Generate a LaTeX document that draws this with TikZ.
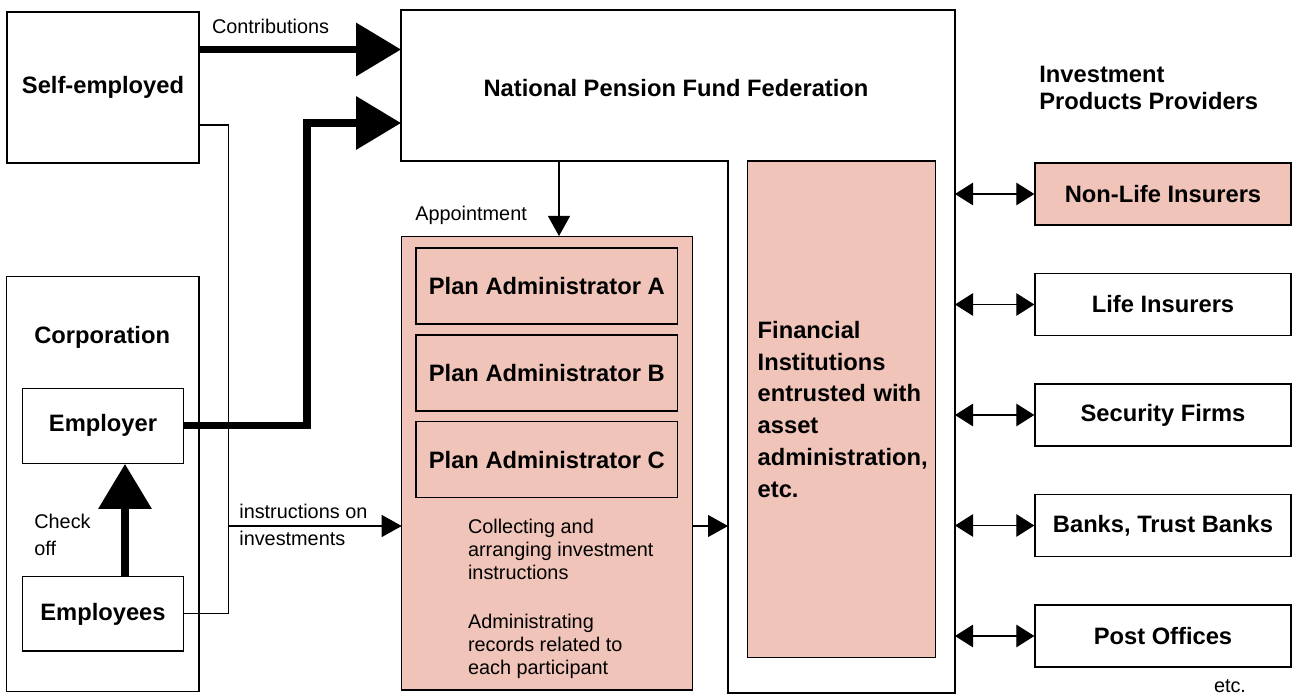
\documentclass[tikz,border=0pt]{standalone}
\usepackage{fontspec}
\setmainfont{Liberation Sans}
\usetikzlibrary{arrows.meta}
\definecolor{admpink}{RGB}{240,196,184}
\tikzset{
  box/.style={draw, line width=0.8pt, inner sep=0pt, font=\fontsize{13.5}{16}\selectfont\bfseries},
  pinkbox/.style={box, fill=admpink},
  provbox/.style={box, minimum width=5.12cm, minimum height=1.24cm},
  planbox/.style={pinkbox, minimum width=5.23cm, minimum height=1.52cm},
  heading/.style={inner sep=0pt, font=\fontsize{13.5}{16}\selectfont\bfseries},
  note/.style={inner sep=0pt, align=left, font=\fontsize{11.3}{13.3}\selectfont},
  fatarrow/.style={line width=4pt, line join=miter, -{Triangle[length=0.9cm,width=1.04cm]}},
  thinarrow/.style={line width=0.6pt, -{Triangle[length=0.4cm,width=0.44cm]}},
  twoway/.style={line width=0.6pt, {Triangle[length=0.36cm,width=0.45cm]}-{Triangle[length=0.36cm,width=0.45cm]}},
  link/.style={line width=0.6pt},
}
\begin{document}
\begin{tikzpicture}[x=0.02cm, y=-0.02cm]
    \useasboundingbox (0,0) rectangle (1296,696);
    % contributors on the left
    \node[box, minimum width=3.84cm, minimum height=3.02cm] (selfemp) at (103,87.5) {Self-employed};
    \node[box, minimum width=3.846cm, minimum height=8.3cm] (corp) at (102.85,484.2) {};
    \node[heading, anchor=base west] (corplabel) at (34,343.3) {Corporation};
    \node[box, minimum width=3.228cm, minimum height=1.5cm] (employer) at (103,425.8) {Employer};
    \node[box, minimum width=3.228cm, minimum height=1.49cm] (employees) at (103,613.9) {Employees};
    \node[note, anchor=north west, font=\fontsize{11.3}{15}\selectfont] (checkoff) at (34,514) {Check\\off};

    % the federation, an L-shaped outline
    \coordinate (fedNW) at (401,10);
    \coordinate (fedNE) at (955,10);
    \coordinate (fedSE) at (955,693);
    \coordinate (fedSM) at (728,693);
    \coordinate (fedIn) at (728,161);
    \coordinate (fedSW) at (401,161);
    \draw[link, line width=0.8pt] (fedNW) -- (fedNE) -- (fedSE) -- (fedSM) -- (fedIn) -- (fedSW) -- cycle;
    \node[heading] (fed) at (676,88) {National Pension Fund Federation};

    % plan administrators
    \node[pinkbox, minimum width=5.82cm, minimum height=9.07cm] (plan) at (547.2,463.4) {};
    \foreach \tag/\y in {A/285.9, B/373, C/459.7}
      \node[planbox] (adm\tag) at (546.8,\y) {Plan Administrator \tag};
    \node[note, anchor=north west] (collect) at (467.7,518.5) {Collecting and\\arranging investment\\instructions};
    \node[note, anchor=north west] (records) at (467.7,613.5) {Administrating\\records related to\\each participant};

    % asset administration
    \node[pinkbox, minimum width=3.756cm, minimum height=9.93cm, text width=3.356cm,
          inner xsep=0.2cm, align=left, font=\fontsize{13.5}{18.1}\selectfont\bfseries]
      (fininst) at (841.6,409.4) {Financial\\Institutions\\entrusted with\\asset\\administration,\\etc.};

    % product providers on the right
    \node[heading, anchor=north west, align=left, font=\fontsize{13.5}{15.5}\selectfont\bfseries]
      (provhead) at (1039,66) {Investment\\Products Providers};
    \foreach \name/\label/\tone [count=\i] in {nonlife/Non-Life Insurers/admpink, life/Life Insurers/white,
        secfirms/Security Firms/white, banks/{Banks, Trust Banks}/white, postoff/Post Offices/white}
      \node[provbox, fill=\tone] (\name) at (1163,{194+110.5*(\i-1)}) {\label};
    \node[note, anchor=base] (etc) at (1230,692.7) {etc.};
    \foreach \name in {nonlife,life,secfirms,banks,postoff}
      \draw[twoway] (fedNE |- \name.west) -- (\name.west);

    % instructions on investments
    \coordinate (trunkTop) at (228.3,125);
    \coordinate (instrIn) at (401.7,526);
    \draw[link] (employees.east) -| (trunkTop) -- (selfemp.east |- trunkTop);
    \draw[thinarrow] (trunkTop |- instrIn) -- (instrIn);
    \node[note, anchor=north west, font=\fontsize{11.3}{15}\selectfont] (instr) at (239,504) {instructions on\\investments};
    \draw[thinarrow] (plan.east |- instrIn) -- (fedIn |- instrIn);

    % appointment
    \coordinate (apptTop) at (559,161);
    \draw[thinarrow] (apptTop) -- (apptTop |- plan.north);
    \node[note, anchor=base west] (appt) at (415,220.7) {Appointment};

    % contributions
    \coordinate (contribIn) at (401,49.5);
    \coordinate (empBend) at (307,123);
    \coordinate (empIn) at (401,123);
    \node[note, anchor=base west] (contrib) at (211.7,33.3) {Contributions};
    \draw[fatarrow] (selfemp.east |- contribIn) -- (contribIn);
    \draw[fatarrow] (employer.east) -| (empBend) -- (empIn);
    \draw[fatarrow] ([xshift=0.44cm]employees.north) -- ([xshift=0.44cm]employer.south);
\end{tikzpicture}
\end{document}
